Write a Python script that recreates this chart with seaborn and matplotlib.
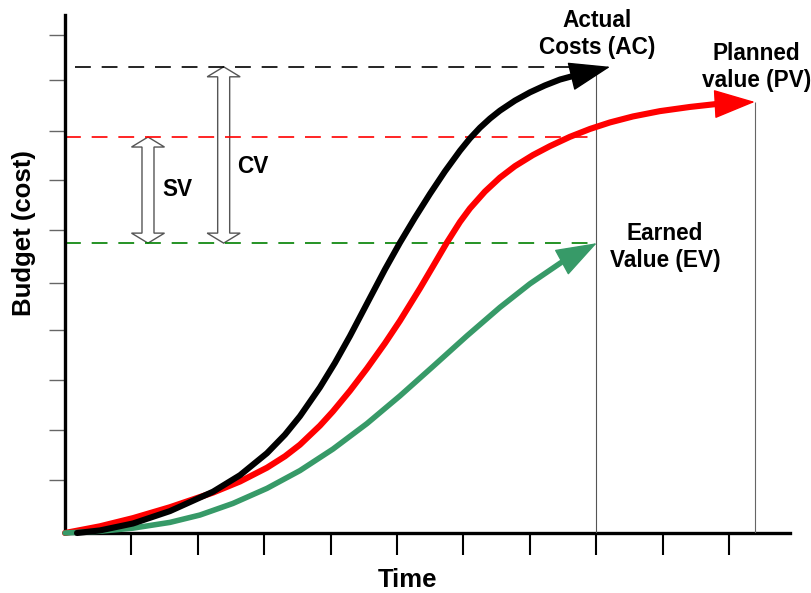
import matplotlib
matplotlib.use("Agg")
import pandas as pd
import matplotlib.pyplot as plt
from matplotlib.patches import Polygon
import seaborn as sns

# --- values (time units / budget units) ---
ac_time = [0.181, 0.527, 1.024, 1.581, 2.229, 2.636, 3.042, 3.313, 3.539, 3.840,
           4.066, 4.292, 4.593, 4.819, 5.045, 5.271, 5.497, 5.723, 5.949, 6.099,
           6.250, 6.401, 6.551, 6.777, 7.003, 7.229, 7.455, 7.711]
ac_cost = [0.000, 0.052, 0.191, 0.440, 0.829, 1.161, 1.602, 1.974, 2.345, 2.924,
           3.416, 3.954, 4.719, 5.291, 5.829, 6.331, 6.809, 7.261, 7.675, 7.922,
           8.137, 8.321, 8.480, 8.681, 8.847, 8.986, 9.104, 9.197]
ac_tip = (8.21, 9.36)

pv_time = [0.000, 0.527, 1.024, 1.581, 2.229, 2.636, 3.042, 3.313, 3.539, 3.840,
           4.036, 4.292, 4.548, 4.819, 5.045, 5.346, 5.542, 5.753, 5.949, 6.099,
           6.325, 6.551, 6.777, 7.048, 7.304, 7.605, 7.907, 8.208, 8.554, 8.961,
           9.413, 9.819]
pv_cost = [0.000, 0.135, 0.299, 0.518, 0.811, 1.034, 1.311, 1.540, 1.773, 2.155,
           2.442, 2.855, 3.303, 3.809, 4.261, 4.910, 5.353, 5.833, 6.245, 6.516,
           6.855, 7.135, 7.365, 7.588, 7.767, 7.954, 8.112, 8.243, 8.363, 8.470,
           8.554, 8.614]
pv_tip = (10.39, 8.655)

ev_time = [0.000, 0.527, 1.024, 1.581, 2.033, 2.530, 3.042, 3.539, 4.036, 4.548,
           5.045, 5.542, 6.054, 6.551, 7.003, 7.470]
ev_cost = [0.000, 0.036, 0.098, 0.213, 0.361, 0.594, 0.896, 1.253, 1.685, 2.197,
           2.753, 3.343, 3.958, 4.530, 5.004, 5.428]
ev_tip = (8.01, 5.82)

ac_level = 9.36
pv_level = 7.95
ev_level = 5.82
status_time = 8.0
pv_end_time = 10.39
sv_time = 1.25
cv_time = 2.39

x_ticks = [1, 2, 3, 4, 5, 6, 7, 8, 9, 10]
y_ticks = [1.06, 2.06, 3.07, 4.07, 5.02, 6.08, 7.08, 8.07, 9.09, 10.0]

df = pd.concat([
    pd.DataFrame({"series": "AC", "time": ac_time, "cost": ac_cost}),
    pd.DataFrame({"series": "PV", "time": pv_time, "cost": pv_cost}),
    pd.DataFrame({"series": "EV", "time": ev_time, "cost": ev_cost}),
], ignore_index=True)

sns.set_theme(style="white")
plt.rcParams["font.family"] = ["Liberation Sans", "DejaVu Sans"]

fig = plt.figure(figsize=(8.11, 5.93), dpi=100)
ax = fig.add_axes([65 / 811, 60 / 593, 725 / 811, 518 / 593])
ax.set_xlim(0, 10.92)
ax.set_ylim(0, 10.40)

# px -> data scale, used to size the hollow double arrows
px_x = 10.92 / 725
px_y = 10.40 / 518


def double_arrow(xc, y_low, y_high):
    hs, hh, hl = 6 * px_x, 16.5 * px_x, 10 * px_y
    verts = [(xc, y_high), (xc + hh, y_high - hl), (xc + hs, y_high - hl),
             (xc + hs, y_low + hl), (xc + hh, y_low + hl), (xc, y_low),
             (xc - hh, y_low + hl), (xc - hs, y_low + hl),
             (xc - hs, y_high - hl), (xc - hh, y_high - hl)]
    ax.add_patch(Polygon(verts, closed=True, fc="white", ec="#555555",
                         lw=1.0, zorder=1))


double_arrow(sv_time, ev_level, pv_level)
double_arrow(cv_time, ev_level, ac_level)

dash = (0, (9.5, 6.5))
ax.hlines(ac_level, 0.15, status_time, colors="black", lw=1.2, linestyles=[dash], zorder=2)
ax.hlines(pv_level, 0, status_time, colors="#ff0000", lw=1.2, linestyles=[dash], zorder=2)
ax.hlines(ev_level, 0, status_time, colors="#008000", lw=1.2, linestyles=[dash], zorder=2)

ax.vlines(status_time, 0, ac_level - 0.1, colors="#555555", lw=0.8, zorder=3)
ax.vlines(pv_end_time, 0, pv_tip[1], colors="#666666", lw=0.8, zorder=3)

styles = {"PV": ("#ff0000", 4.4, pv_tip, 4),
          "EV": ("#379a68", 4.0, ev_tip, 5),
          "AC": ("#000000", 4.4, ac_tip, 6)}
for name in ["PV", "EV", "AC"]:
    color, lw, tip, z = styles[name]
    sub = df[df["series"] == name]
    sns.lineplot(data=sub, x="time", y="cost", color=color, lw=lw, sort=False,
                 estimator=None, ax=ax, zorder=z)
    ax.lines[-1].set_clip_on(False)
    ax.lines[-1].set_solid_capstyle("round")
    ax.lines[-1].set_solid_joinstyle("round")
    ax.annotate("", xy=tip, xytext=(sub["time"].iloc[-1], sub["cost"].iloc[-1]),
                arrowprops=dict(arrowstyle="-|>,head_length=2.7,head_width=0.95",
                                color=color, lw=1, shrinkA=0, shrinkB=0,
                                mutation_scale=10),
                zorder=z, annotation_clip=False)

txt = dict(fontsize=16.3, fontweight="bold", ha="center", va="center",
           linespacing=1.2, color="black")
ax.text(8.01, 10.02, "Actual\nCosts (AC)", **txt)
ax.text(10.41, 9.36, "Planned\nvalue (PV)", **txt)
ax.text(9.04, 5.74, "Earned\nValue (EV)", **txt)
ax.text(1.70, 6.89, "SV", **txt)
ax.text(2.83, 7.35, "CV", **txt)

ax.set_xlabel("Time", fontsize=18.5, fontweight="bold", va="center", color="black")
ax.set_ylabel("Budget (cost)", fontsize=18.5, fontweight="bold", va="center", color="black")
ax.xaxis.set_label_coords(0.472, -0.091)
ax.yaxis.set_label_coords(-0.056, 0.579)

ax.set_xticks(x_ticks)
ax.set_yticks(y_ticks)
ax.set_xticklabels([])
ax.set_yticklabels([])
ax.tick_params(axis="x", bottom=True, direction="out", length=16, width=1.5, color="black")
ax.tick_params(axis="y", left=True, direction="out", length=11.5, width=1.0, color="#666666")

ax.spines[["top", "right"]].set_visible(False)
for side in ["left", "bottom"]:
    ax.spines[side].set_linewidth(2.4)
    ax.spines[side].set_color("black")

fig.savefig("out.png", dpi=100)
